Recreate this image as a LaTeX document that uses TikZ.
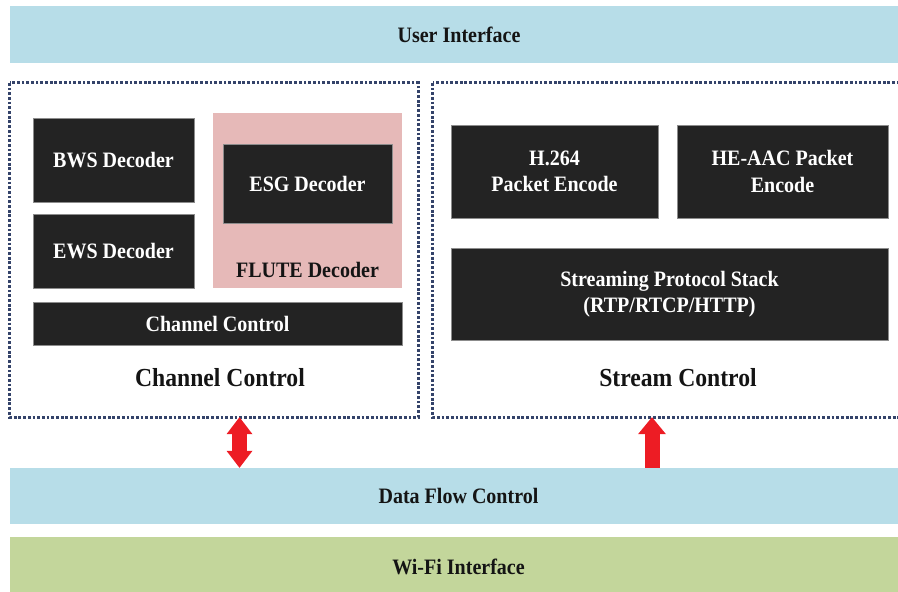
\documentclass[tikz,border=0pt]{standalone}
\usepackage{fontspec}
\setmainfont{Liberation Serif}
% slightly condensed serif for the labels
\newfontfamily\labelserif[FakeStretch=0.91]{Liberation Serif}
\usetikzlibrary{arrows.meta}
\definecolor{bandblue}{HTML}{B7DDE8}
\definecolor{bandgreen}{HTML}{C3D69B}
\definecolor{flutepink}{HTML}{E6B9B8}
\definecolor{boxblack}{HTML}{232323}
\definecolor{dotblue}{HTML}{34436A}
\definecolor{arrowred}{HTML}{ED1C24}
\begin{document}
\begin{tikzpicture}[x=1pt,y=-1pt,
  band/.style={draw=none, inner sep=0pt, text=black!92,
    font=\labelserif\bfseries\fontsize{22}{26}\selectfont},
  block/.style={draw=black!45, line width=0.6pt, fill=boxblack, text=white,
    align=center, inner sep=0pt, font=\labelserif\bfseries\fontsize{22}{26.5}\selectfont},
  frame/.style={inner sep=0pt},
  framedots/.style={draw=dotblue, line width=3pt, dash pattern=on 2.8pt off 1.9pt},
  title/.style={inner sep=0pt, text=black!92, font=\labelserif\bfseries\fontsize{26}{30}\selectfont},
  redarrow/.style={draw=arrowred, line width=15pt}
]
\useasboundingbox (0,0) rectangle (898,592);
\clip (0,0) rectangle (898,592);

% horizontal layers
\node[band, fill=bandblue, minimum width=898pt, minimum height=57pt] (ui) at (459,34.5) {User Interface};
\node[band, fill=bandblue, minimum width=897pt, minimum height=56pt] (dfc) at (458.5,496) {Data Flow Control};
\node[band, fill=bandgreen, minimum width=897pt, minimum height=60pt] (wifi) at (458.5,567) {Wi-Fi Interface};

% dotted control frames
\node[frame, minimum width=408pt, minimum height=334pt] (chbox) at (214,250) {};
\node[frame, minimum width=472pt, minimum height=334pt] (stbox) at (669,250) {};
\draw[framedots] (chbox.north west) rectangle (chbox.south east);
\draw[framedots] (stbox.north west) rectangle (stbox.south east);

% channel control side
\node[block, minimum width=161pt, minimum height=84pt] (bws) at (113.5,160) {BWS Decoder};
\node[block, minimum width=161pt, minimum height=74pt] (ews) at (113.5,251) {EWS Decoder};
\node[fill=flutepink, draw=none, inner sep=0pt, minimum width=189pt, minimum height=175pt] (flute) at (307.5,200.5) {};
\node[block, minimum width=169pt, minimum height=79pt] (esg) at (307.5,183.5) {ESG Decoder};
\node[band] (flutelbl) at (307.5,270) {FLUTE Decoder};
\node[block, minimum width=369pt, minimum height=43pt] (chctl) at (217.5,323.5) {Channel Control};
\node[title] (chtitle) at (220,378) {Channel Control};

% stream control side
\node[block, minimum width=207pt, minimum height=93pt] (h264) at (554.5,171.5) {H.264\\Packet Encode};
\node[block, minimum width=211pt, minimum height=93pt] (heaac) at (782.5,171.5) {HE-AAC Packet\\Encode};
\node[block, minimum width=437pt, minimum height=92pt] (sps) at (669.5,294) {Streaming Protocol Stack\\(RTP/RTCP/HTTP)};
\node[title] (sttitle) at (678,378) {Stream Control};

% data paths to the flow controller
\coordinate (xa) at (239.5,0);
\coordinate (xb) at (652,0);
\draw[redarrow, {Triangle[width=26pt,length=17pt,line width=0pt]}-{Triangle[width=26pt,length=17pt,line width=0pt]}]
  (xa |- chbox.south) -- (xa |- dfc.north);
\draw[redarrow, -{Triangle[width=28pt,length=17pt,line width=0pt]}]
  (xb |- dfc.north) -- (xb |- stbox.south);
\end{tikzpicture}
\end{document}
